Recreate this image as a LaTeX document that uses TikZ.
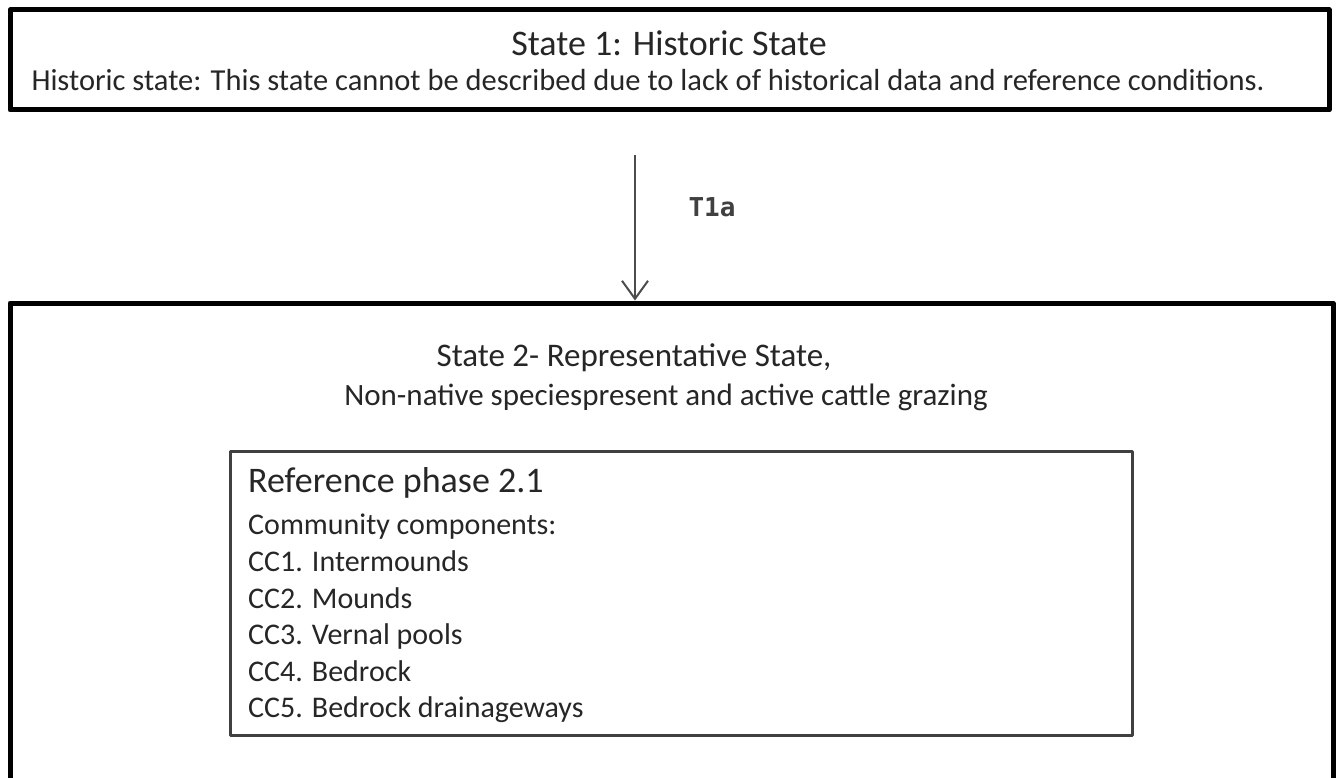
\documentclass[tikz,border=0pt]{standalone}
\usepackage{fontspec}
\setmainfont{Carlito}
\newfontfamily\monofont{DejaVu Sans Mono}
\usetikzlibrary{arrows.meta,positioning}
\begin{document}
\begin{tikzpicture}[x=1pt, y=-1pt, >={Straight Barb[length=18pt,width=26pt]}, line join=round,
    statebox/.style={draw=black, line width=5pt, inner sep=0pt},
    phasebox/.style={draw=black!75, line width=3pt, inner sep=0pt},
    txt/.style={inner sep=0pt, text=black!85, font=\fontsize{#1}{#1}\selectfont}]
\useasboundingbox (0,0) rectangle (1337,778);
\clip (0,0) rectangle (1337,778);
% the boxes
\node[statebox, minimum width=1319pt, minimum height=100pt] (S1) at (669.5,60) {};
\node[statebox, minimum width=1323pt, minimum height=500pt] (S2) at (671.5,553) {};
\node[phasebox, minimum width=902pt, minimum height=284pt] (P21) at (681,593) {};
% state 1
\node[txt=36] (S1title) at (669,43) {State 1: Historic State};
\node[txt=30.5] (S1text) at (648,80) {Historic state: This state cannot be described due to lack of historical data and reference conditions.};
% transition
\coordinate (T) at (635,155);
\draw[->, line width=2pt, draw=black!70] (T) -- (T |- S2.north);
\node[txt=26, font=\monofont\bfseries\fontsize{26}{26}\selectfont, text=black!75] (T1a) at (712,207) {T1a};
% state 2
\node[txt=33] (S2title) at (634,358) {State 2- Representative State,};
\node[txt=31] (S2text) at (666,397) {Non-native speciespresent and active cattle grazing};
% phase 2.1
\node[txt=36, anchor=west] (P21title) at (248,483) {Reference phase 2.1};
\node[txt=30, anchor=north west, align=left, font=\fontsize{30}{36.6}\selectfont] (P21text) at (248,514)
  {Community components:\\ CC1. Intermounds\\ CC2. Mounds\\ CC3. Vernal pools\\ CC4. Bedrock\\ CC5. Bedrock drainageways};
\end{tikzpicture}
\end{document}
